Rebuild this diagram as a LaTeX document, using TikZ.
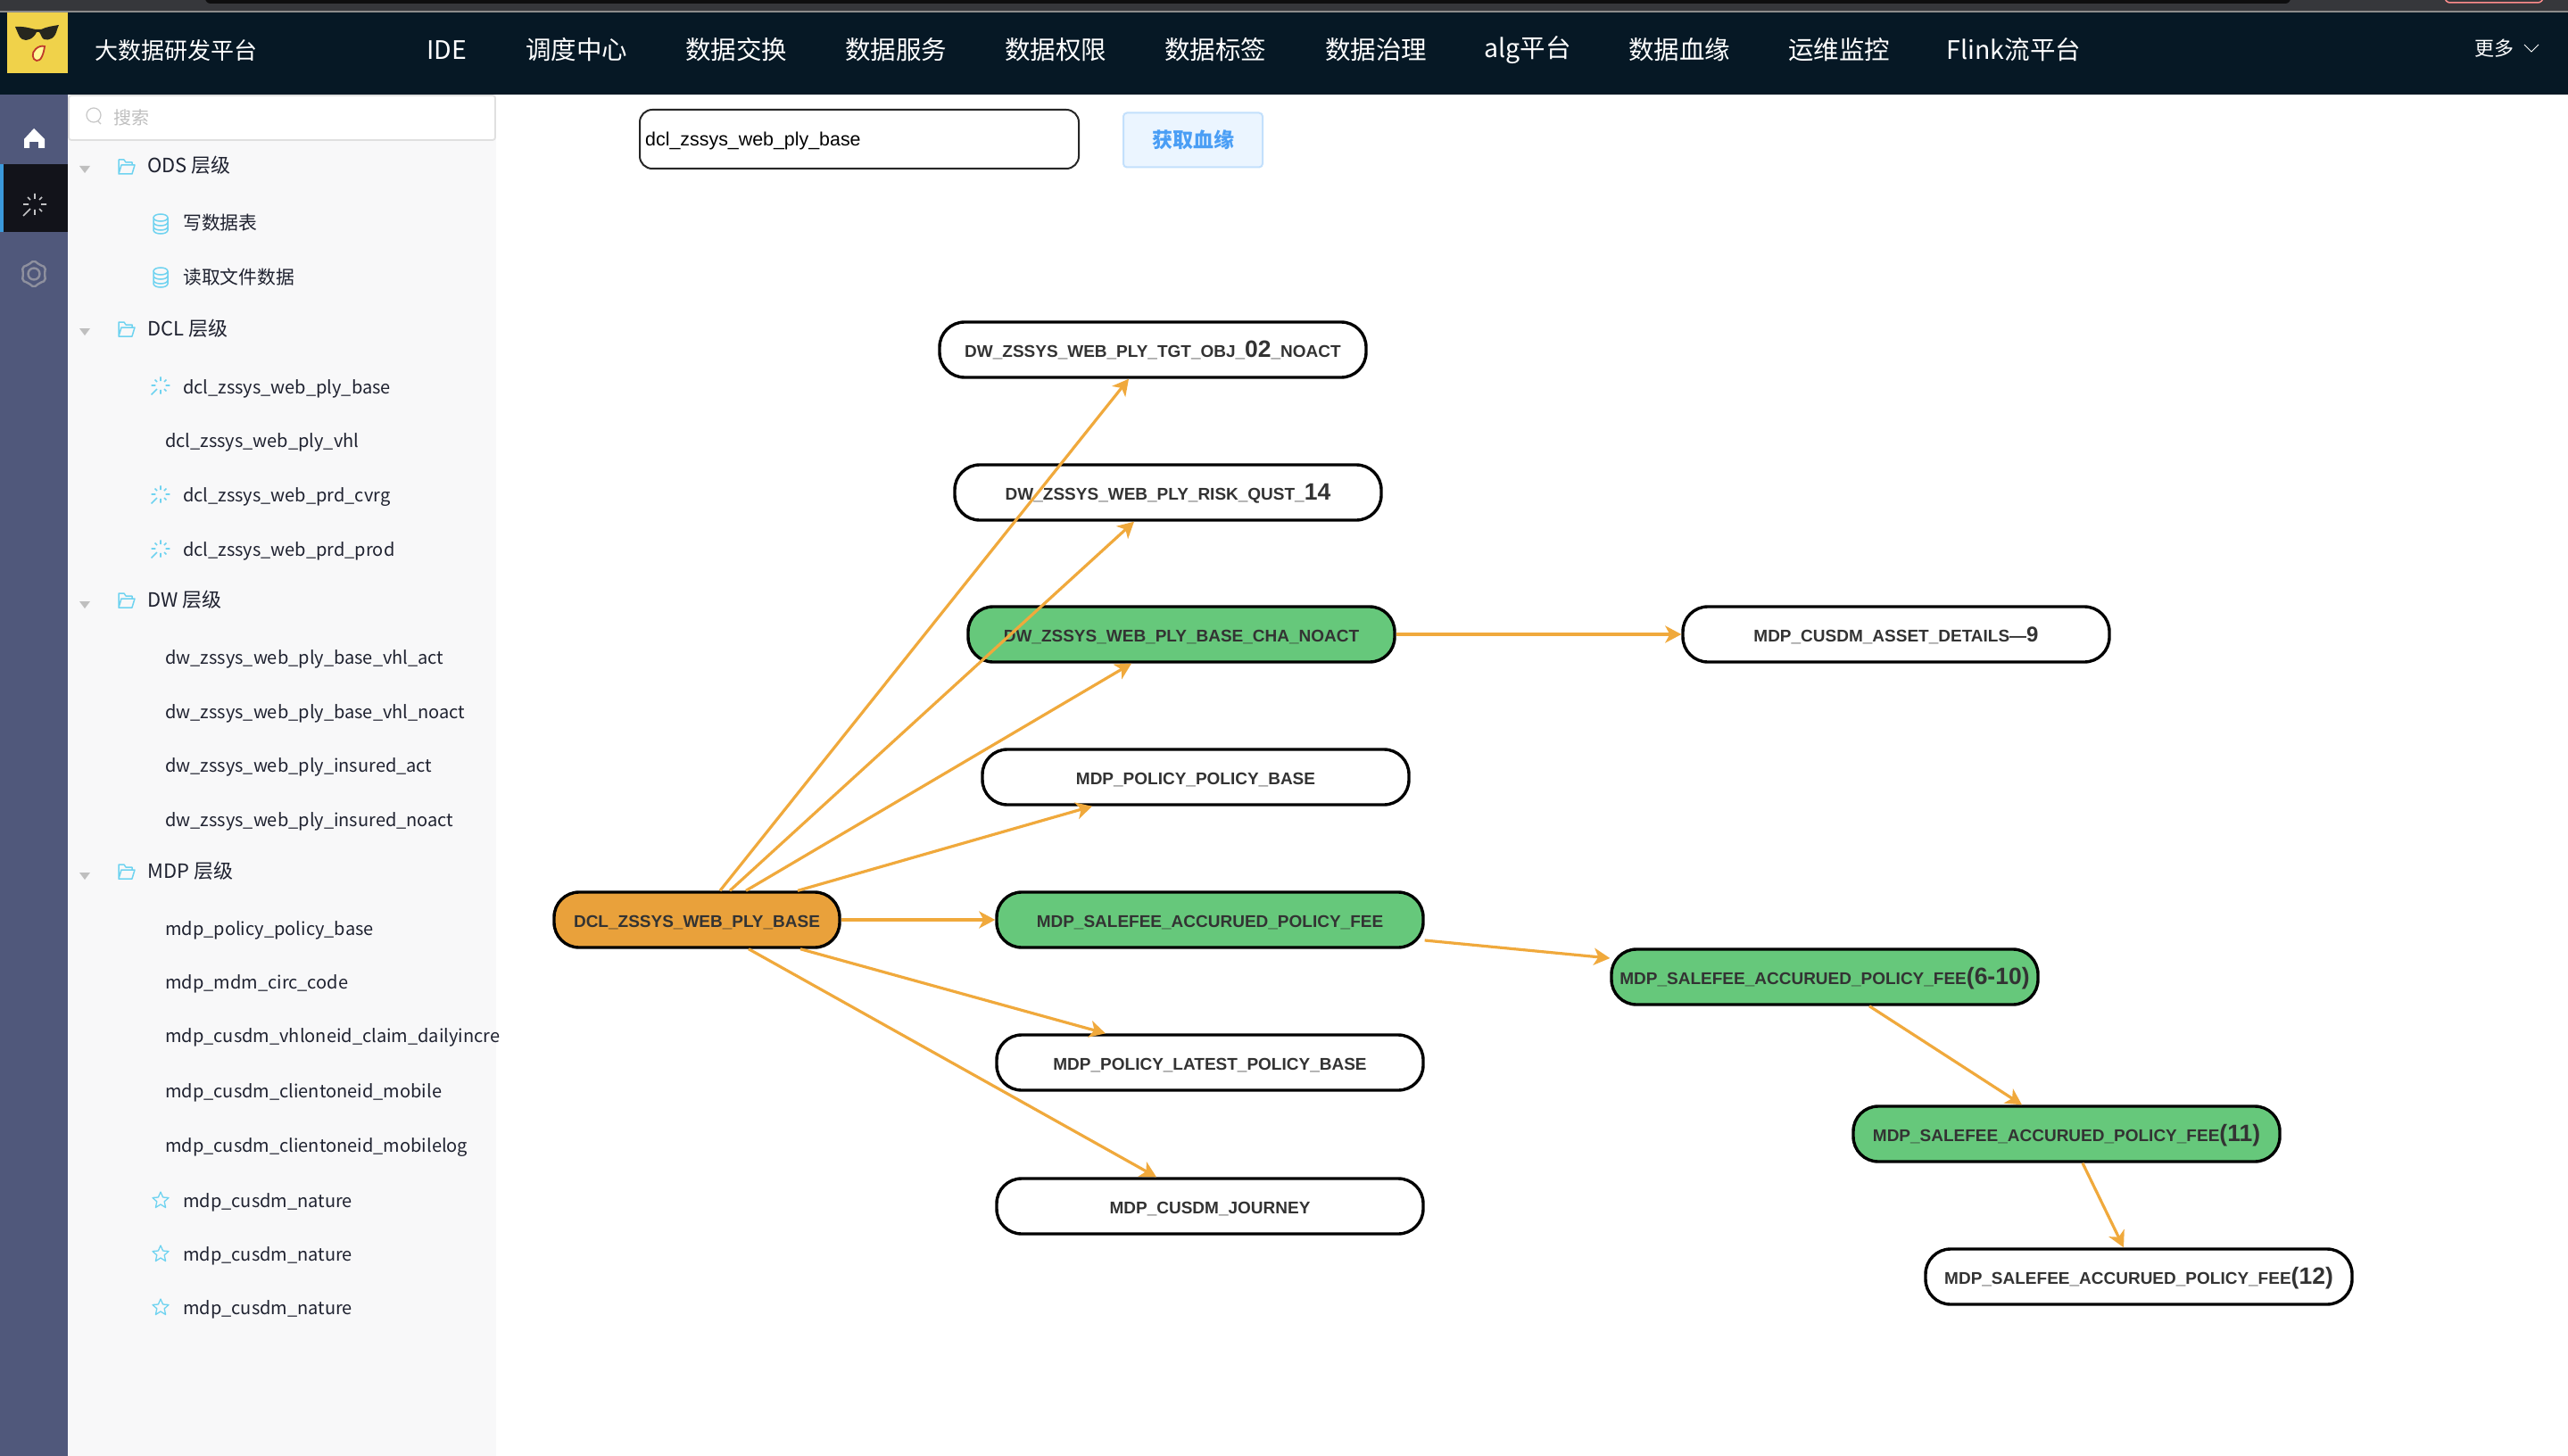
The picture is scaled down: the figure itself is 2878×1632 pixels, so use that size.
\documentclass[tikz,border=0pt]{standalone}
\usepackage{fontspec}
\usetikzlibrary{arrows.meta,shapes.geometric}
\setmainfont{Liberation Sans}
\newfontfamily\cjk{Noto Sans CJK SC}
\definecolor{barDark}{HTML}{061825}
\definecolor{railBlue}{HTML}{50587B}
\definecolor{railActive}{HTML}{12131A}
\definecolor{panelGrey}{HTML}{F8F8F9}
\definecolor{stripGrey}{HTML}{36373B}
\definecolor{iconCyan}{HTML}{6FD3F0}
\definecolor{flowOrange}{HTML}{F0A93C}
\definecolor{fillOrange}{HTML}{E9A13B}
\definecolor{fillGreen}{HTML}{66C87B}
\definecolor{labelGrey}{HTML}{333333}
\definecolor{treeText}{HTML}{1F2230}
\definecolor{btnBlue}{HTML}{4A9EF5}
\definecolor{btnFill}{HTML}{EBF5FF}
\definecolor{btnEdge}{HTML}{C3E0FC}
\definecolor{logoYellow}{HTML}{F0D24A}
\definecolor{shadeBlack}{HTML}{26261E}
\definecolor{gearGrey}{HTML}{8E909E}
\definecolor{lipRed}{HTML}{C0392B}

\begin{document}
\begin{tikzpicture}
            [
                x=1pt, y=-1pt,
                ->, >={Stealth[length=18pt,width=19pt,inset=5pt]},
                flownode/.style={
                    draw=black, line width=3.4pt, fill=white, rounded corners=28pt,
                    minimum width=478pt, minimum height=62pt, inner sep=0pt,
                    text=labelGrey, text height=20pt, text depth=4pt,
                    font=\bfseries\fontsize{19}{20}\selectfont
                },
                greennode/.style={flownode, fill=fillGreen},
                flowedge/.style={draw=flowOrange, line width=3.2pt},
                navitem/.style={anchor=center, inner sep=0pt, text=white, font=\cjk\fontsize{28.5}{30}\selectfont},
                treeitem/.style={anchor=west, inner sep=0pt, text=treeText, text height=20pt, text depth=4pt, font=\cjk\fontsize{20}{24}\selectfont},
                levelitem/.style={treeitem, font=\cjk\fontsize{22}{24}\selectfont},
                folderpic/.pic={
                    \draw[-, iconCyan, line width=1.5pt, line join=round]
                        (-8,8) -- (-8,-8) -- (-2,-8) -- (0,-5) -- (7,-5) -- (7,-2) (-8,8) -- (-5,-2) -- (10,-2) -- (7,8) -- cycle;
                },
                dbpic/.pic={
                    \draw[-, iconCyan, line width=1.5pt]
                        (8,-7) arc[start angle=0, end angle=360, x radius=8, y radius=4]
                        (-8,-7) -- (-8,7) arc[start angle=180, end angle=0, x radius=8, y radius=4] -- (8,-7)
                        (-8,-2) arc[start angle=180, end angle=0, x radius=8, y radius=4]
                        (-8,3) arc[start angle=180, end angle=0, x radius=8, y radius=4];
                },
                sparkpic/.pic={
                    \draw[-, line width=1.6pt, pic actions]
                        (0,-12) -- (0,-6) (0,6) -- (0,12) (-13,0) -- (-7,0) (7,0) -- (13,0)
                        (-8,-8) -- (-5,-5) (8,-8) -- (5,-5) (5,5) -- (8,8) (-5,5) -- (-13,13);
                },
                starpic/.pic={
                    \draw[-, iconCyan, line width=1.3pt, line join=round]
                        (0,-9) -- (2.6,-3) -- (9,-2.5) -- (4.2,1.8) -- (5.6,8.5) -- (0,5) -- (-5.6,8.5) -- (-4.2,1.8) -- (-9,-2.5) -- (-2.6,-3) -- cycle;
                }
            ]
            \useasboundingbox (0,0) rectangle (2878,1632);

            % page frame
            \fill[white] (0,0) rectangle (2878,1632);
            \fill[stripGrey] (0,0) rectangle (2878,12);
            \fill[black!75!stripGrey, rounded corners=6pt] (230,-8) rectangle (2567,4);
            \draw[-, draw=red!45!white, line width=1.5pt, rounded corners=6pt] (2740,-8) rectangle (2850,3);
            \fill[black!45!white] (0,12) rectangle (2878,14);
            \fill[barDark] (0,14) rectangle (2878,106);
            \fill[railBlue] (0,106) rectangle (76,1632);
            \fill[railActive] (0,184) rectangle (76,260);
            \fill[cyan!70!blue!80!white] (0,184) rectangle (4,260);
            \fill[panelGrey] (76,106) rectangle (556,1632);

            % logo
            \fill[logoYellow] (8,14) rectangle (76,82);
            \fill[shadeBlack] (17,30) .. controls (28,29) and (38,33) .. (40,33) -- (46,33) .. controls (52,30) and (60,29) .. (66,28) -- (64,33) .. controls (62,43) and (55,46) .. (49,44) .. controls (46,42) and (46,38) .. (44,36) -- (41,36) .. controls (38,43) and (30,47) .. (25,44) .. controls (21,42) and (20,36) .. cycle;
            \draw[-, lipRed, line width=1.8pt, fill=yellow!40!white] (40,55) .. controls (35,59) and (36,67) .. (41,68) .. controls (46,69) and (49,60) .. (50,52) .. controls (47,51) and (43,52) .. cycle;

            % nav bar
            \node[navitem, anchor=west, font=\cjk\fontsize{26}{28}\selectfont] (brand) at (106,57) {大数据研发平台};
            \node[navitem] (navIde) at (501,56) {IDE};
            \node[navitem] (navSched) at (646,56) {调度中心};
            \node[navitem] (navSwap) at (825,56) {数据交换};
            \node[navitem] (navServ) at (1004,56) {数据服务};
            \node[navitem] (navPerm) at (1183,56) {数据权限};
            \node[navitem] (navTag) at (1362,56) {数据标签};
            \node[navitem] (navGov) at (1542,56) {数据治理};
            \node[navitem] (navAlg) at (1712,56) {alg平台};
            \node[navitem] (navLine) at (1882,56) {数据血缘};
            \node[navitem] (navOps) at (2061,56) {运维监控};
            \node[navitem] (navFlink) at (2257,56) {Flink流平台};
            \node[navitem, font=\cjk\fontsize{22}{24}\selectfont] (navMore) at (2795,54) {更多};
            \draw[-, white, line width=1pt] (2829,50) -- (2837,58) -- (2845,50);

            % rail icons
            \fill[white] (38,144) -- (50,156) -- (50,166) -- (43,166) -- (43,159) -- (33,159) -- (33,166) -- (27,166) -- (27,156) -- cycle;
            \pic[draw=white!75!railActive] at (39,229) {sparkpic};
            \draw[-, gearGrey, line width=2.4pt] (38,307) circle (6.5pt);
            \draw[-, gearGrey, line width=2.4pt, rounded corners=2pt] (38,292) -- (44,296.6) -- (51,299.5) -- (50,307) -- (51,314.5) -- (44,317.4) -- (38,322) -- (32,317.4) -- (25,314.5) -- (26,307) -- (25,299.5) -- (32,296.6) -- cycle;

            % search box
            \draw[-, draw=black!12!white, line width=1.8pt, fill=white, rounded corners=3pt] (77,107) rectangle (555,157);
            \draw[-, draw=black!22!white, line width=1.2pt] (105,129) circle (8pt) (110,136) -- (113,139);
            \node[treeitem, text=black!25!white] (searchHint) at (127,132) {搜索};

            % tree
            \fill[black!25!white] (89,186) -- (101,186) -- (95,194) -- cycle;
            \fill[black!25!white] (89,368) -- (101,368) -- (95,376) -- cycle;
            \fill[black!25!white] (89,674) -- (101,674) -- (95,682) -- cycle;
            \fill[black!25!white] (89,978) -- (101,978) -- (95,986) -- cycle;
            \pic at (141,187) {folderpic};
            \pic at (141,369) {folderpic};
            \pic at (141,673) {folderpic};
            \pic at (141,977) {folderpic};
            \pic at (180,251) {dbpic};
            \pic at (180,311) {dbpic};
            \pic[draw=iconCyan, scale=0.8] at (180,432) {sparkpic};
            \pic[draw=iconCyan, scale=0.8] at (180,554) {sparkpic};
            \pic[draw=iconCyan, scale=0.8] at (180,615) {sparkpic};
            \pic at (180,1345) {starpic};
            \pic at (180,1405) {starpic};
            \pic at (180,1465) {starpic};

            \node[levelitem] (odsLevel) at (165,186) {ODS 层级};
            \node[treeitem, font=\cjk\fontsize{20.8}{24}\selectfont] (writeTable) at (205,250) {写数据表};
            \node[treeitem, font=\cjk\fontsize{20.8}{24}\selectfont] (readFile) at (205,310) {读取文件数据};
            \node[levelitem] (dclLevel) at (165,368) {DCL 层级};
            \node[treeitem] (dclBase) at (205,433) {dcl\_zssys\_web\_ply\_base};
            \node[treeitem] (dclVhl) at (185,493) {dcl\_zssys\_web\_ply\_vhl};
            \node[treeitem] (dclCvrg) at (205,554) {dcl\_zssys\_web\_prd\_cvrg};
            \node[treeitem] (dclProd) at (205,615) {dcl\_zssys\_web\_prd\_prod};
            \node[levelitem] (dwLevel) at (165,672) {DW 层级};
            \node[treeitem] (dwVhlAct) at (185,736) {dw\_zssys\_web\_ply\_base\_vhl\_act};
            \node[treeitem] (dwVhlNoact) at (185,797) {dw\_zssys\_web\_ply\_base\_vhl\_noact};
            \node[treeitem] (dwInsAct) at (185,857) {dw\_zssys\_web\_ply\_insured\_act};
            \node[treeitem] (dwInsNoact) at (185,918) {dw\_zssys\_web\_ply\_insured\_noact};
            \node[levelitem] (mdpLevel) at (165,976) {MDP 层级};
            \node[treeitem] (mdpPolicy) at (185,1040) {mdp\_policy\_policy\_base};
            \node[treeitem] (mdpCirc) at (185,1100) {mdp\_mdm\_circ\_code};
            \node[treeitem] (mdpClaim) at (185,1160) {mdp\_cusdm\_vhloneid\_claim\_dailyincre};
            \node[treeitem] (mdpMobile) at (185,1222) {mdp\_cusdm\_clientoneid\_mobile};
            \node[treeitem] (mdpMobileLog) at (185,1283) {mdp\_cusdm\_clientoneid\_mobilelog};
            \node[treeitem] (natureA) at (205,1345) {mdp\_cusdm\_nature};
            \node[treeitem] (natureB) at (205,1405) {mdp\_cusdm\_nature};
            \node[treeitem] (natureC) at (205,1465) {mdp\_cusdm\_nature};

            % query form
            \node[draw=black!85!white, line width=2pt, fill=white, rounded corners=14pt, minimum width=492pt, minimum height=66pt, inner sep=0pt] (inputBox) at (963,156) {};
            \node[anchor=west, inner sep=0pt, font=\fontsize{21.4}{24}\selectfont] (inputText) at (723,158) {dcl\_zssys\_web\_ply\_base};
            \node[draw=btnEdge, line width=2pt, fill=btnFill, rounded corners=4pt, minimum width=156pt, minimum height=61pt, inner sep=0pt, text=btnBlue, font=\cjk\bfseries\fontsize{23}{25}\selectfont] (fetchBtn) at (1337,157) {获取血缘};

            % lineage graph
            \node[flownode, fill=fillOrange, minimum width=320pt] (source) at (781,1031) {DCL\_ZSSYS\_WEB\_PLY\_BASE};
            \node[flownode] (tgtObj) at (1292,392) {DW\_ZSSYS\_WEB\_PLY\_TGT\_OBJ\_{\fontsize{26.5}{28}\selectfont 02}\_NOACT};
            \node[flownode] (riskQust) at (1309,552) {DW\_ZSSYS\_WEB\_PLY\_RISK\_QUST\_{\fontsize{26.5}{28}\selectfont 14}};
            \node[greennode] (baseCha) at (1324,711) {DW\_ZSSYS\_WEB\_PLY\_BASE\_CHA\_NOACT};
            \node[flownode] (policyBase) at (1340,871) {MDP\_POLICY\_POLICY\_BASE};
            \node[greennode] (salefee) at (1356,1031) {MDP\_SALEFEE\_ACCURUED\_POLICY\_FEE};
            \node[flownode] (latestBase) at (1356,1191) {MDP\_POLICY\_LATEST\_POLICY\_BASE};
            \node[flownode] (journey) at (1356,1352) {MDP\_CUSDM\_JOURNEY};
            \node[flownode] (assetDetails) at (2125,711) {MDP\_CUSDM\_ASSET\_DETAILS—{\fontsize{24}{24}\selectfont 9}};
            \node[greennode] (salefeeA) at (2045,1095) {MDP\_SALEFEE\_ACCURUED\_POLICY\_FEE{\fontsize{26.5}{28}\selectfont (6-10)}};
            \node[greennode] (salefeeB) at (2316,1271) {MDP\_SALEFEE\_ACCURUED\_POLICY\_FEE{\fontsize{26.5}{28}\selectfont (11)}};
            \node[flownode] (salefeeC) at (2397,1431) {MDP\_SALEFEE\_ACCURUED\_POLICY\_FEE{\fontsize{26.5}{28}\selectfont (12)}};

            \draw[flowedge] ([xshift=26pt]source.north) -- ([xshift=-27pt]tgtObj.south);
            \draw[flowedge] ([xshift=37pt]source.north) -- ([xshift=-38pt]riskQust.south);
            \draw[flowedge] ([xshift=55pt]source.north) -- ([xshift=-56pt]baseCha.south);
            \draw[flowedge] ([xshift=113pt]source.north) -- ([xshift=-116pt]policyBase.south);
            \draw[flowedge] (source.east) -- (salefee.west);
            \draw[flowedge] ([xshift=116pt]source.south) -- ([xshift=-117pt]latestBase.north);
            \draw[flowedge] ([xshift=58pt]source.south) -- ([xshift=-60pt]journey.north);
            \draw[flowedge] (baseCha.east) -- (assetDetails.west);
            \draw[flowedge] ([yshift=-23pt]salefee.east) -- ([yshift=21pt]salefeeA.west);
            \draw[flowedge] ([xshift=50pt]salefeeA.south) -- ([xshift=-50pt]salefeeB.north);
            \draw[flowedge] ([xshift=18pt]salefeeB.south) -- ([xshift=-17pt]salefeeC.north);
        \end{tikzpicture}
\end{document}
